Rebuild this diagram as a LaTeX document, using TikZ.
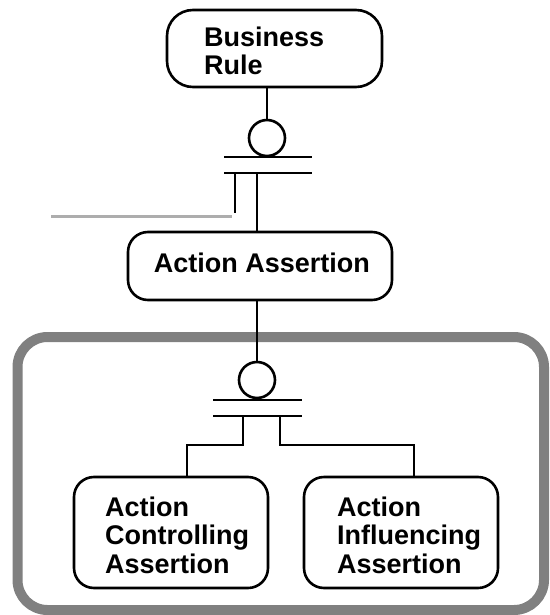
\documentclass[tikz,border=0pt]{standalone}
\usepackage{fontspec}
\setmainfont{Liberation Sans}
\begin{document}
\begin{tikzpicture}[x=1pt,y=-1pt,
  box/.style={draw=black, line width=2.6pt, rounded corners=20pt, inner sep=0pt, fill=white},
  label text/.style={inner sep=0pt, align=left, font=\bfseries\fontsize{27}{28.5}\selectfont},
  link/.style={draw=black, line width=2.6pt},
  ring/.style={circle, draw=black, line width=2.6pt, minimum size=36pt, inner sep=0pt},
  faint/.style={draw=black!32, line width=3pt},
  frame/.style={draw=black!50, line width=10pt, rounded corners=30pt}]
\useasboundingbox (0,0) rectangle (549,615);

% outer grouping frame
\draw[frame] (17.5,337) rectangle (544,610);

% entity boxes
\node[box, rounded corners=26pt, minimum width=215pt, minimum height=77pt] (br) at (274.5,48.5) {};
\node[label text, anchor=west] (brt) at (204,51) {Business\\Rule};

\node[box, minimum width=264pt, minimum height=68pt] (aa) at (260,266) {};
\node[label text] (aat) at (262,262.5) {Action Assertion};

\node[box, minimum width=194pt, minimum height=111pt] (ac) at (171,532.5) {};
\node[label text, anchor=west] (act) at (105,535) {Action\\Controlling\\Assertion};

\node[box, minimum width=194pt, minimum height=111pt] (ai) at (401,532.5) {};
\node[label text, anchor=west] (ait) at (337,535) {Action\\Influencing\\Assertion};

% upper subtype junction
\node[ring] (c1) at (267,138) {};
\coordinate (b1w) at (224,157); \coordinate (b1e) at (312,157);
\coordinate (b2w) at (224,173); \coordinate (b2e) at (312,173);
\draw[link] (c1.north) -- (c1.north |- br.south);
\draw[link] (b1w) -- (b1e);
\draw[link] (b2w) -- (b2e);
\coordinate (u1) at (235,173); \coordinate (u1e) at (235,213);
\coordinate (u2) at (257,173);
\draw[link] (u1) -- (u1e);
\draw[link] (u2) -- (u2 |- aa.north);
\coordinate (g0) at (51,216); \coordinate (g1) at (232,216);
\draw[faint] (g0) -- (g1);

% lower subtype junction
\node[ring] (c2) at (257,380) {};
\draw[link] (c2.north) -- (c2.north |- aa.south);
\coordinate (b3w) at (213,400); \coordinate (b3e) at (302,400);
\coordinate (b4w) at (213,416); \coordinate (b4e) at (302,416);
\draw[link] (b3w) -- (b3e);
\draw[link] (b4w) -- (b4e);
\coordinate (l1) at (243,416); \coordinate (l2) at (243,445);
\coordinate (l3) at (187,445);
\draw[link] (l1) -- (l2) -- (l3) -- (l3 |- ac.north);
\coordinate (r1) at (280,416); \coordinate (r2) at (280,445);
\coordinate (r3) at (414,445);
\draw[link] (r1) -- (r2) -- (r3) -- (r3 |- ai.north);
\end{tikzpicture}
\end{document}
